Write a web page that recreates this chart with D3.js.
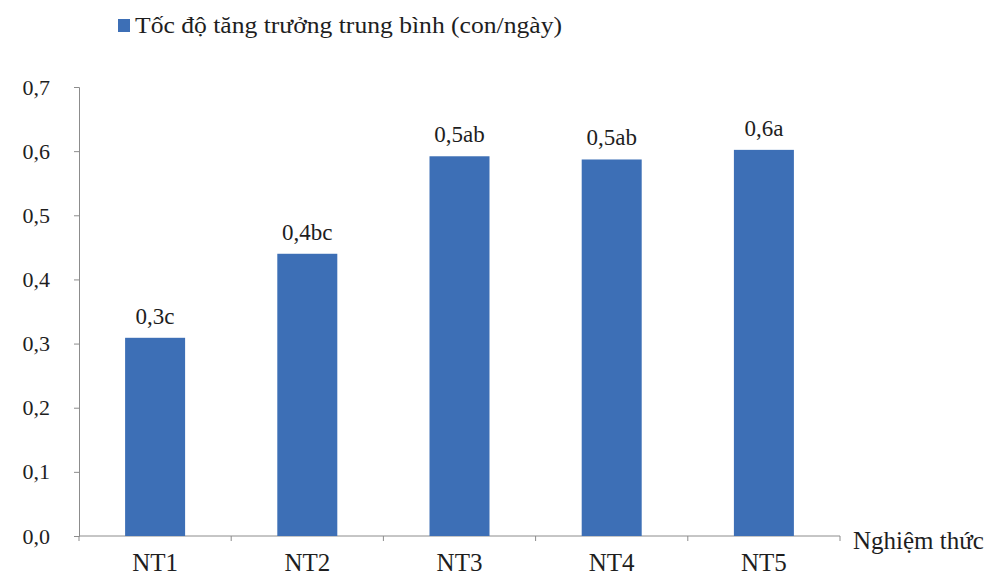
<!DOCTYPE html>
<html>
<head>
<meta charset="utf-8">
<script src="https://cdn.jsdelivr.net/npm/d3@7"></script>
<style>
  html, body { margin: 0; padding: 0; background: #fff; }
</style>
</head>
<body>
<svg id="chart" width="990" height="577"></svg>
<script>
const categories = ["NT1", "NT2", "NT3", "NT4", "NT5"];
const values = [0.309, 0.44, 0.592, 0.587, 0.602];
const valueLabels = ["0,3c", "0,4bc", "0,5ab", "0,5ab", "0,6a"];
const yTicks = [0, 0.1, 0.2, 0.3, 0.4, 0.5, 0.6, 0.7];
const legendLabel = "Tốc độ tăng trưởng trung bình (con/ngày)";
const xAxisTitle = "Nghiệm thức";

const FONT = "'Liberation Serif', 'Times New Roman', Tinos, serif";
const TXT = "#1e1e1e";
const svg = d3.select("#chart");
const margin = { left: 79, right: 150, top: 87, bottom: 41 };
const W = 990, H = 577;
const x0 = margin.left, x1 = W - margin.right, y0 = H - margin.bottom, y1 = margin.top;

const x = d3.scaleBand().domain(categories).range([x0, x1]);
const y = d3.scaleLinear().domain([0, 0.7]).range([y0, y1]);
const axisColor = "#8c8c8c";
const barColor = "#3d6fb6";

// Y axis
const yAxis = svg.append("g").attr("transform", `translate(${x0},0)`)
  .call(d3.axisLeft(y).tickValues(yTicks).tickSize(5).tickPadding(24)
    .tickFormat(d => d3.format(".1f")(d).replace(".", ",")));
yAxis.attr("font-family", FONT);
yAxis.select(".domain").attr("stroke", axisColor);
yAxis.selectAll(".tick line").attr("stroke", axisColor);
yAxis.selectAll(".tick text").attr("font-size", 22).attr("fill", TXT).attr("font-family", FONT);

// X axis (band boundaries as ticks)
const xg = svg.append("g").attr("transform", `translate(0,${y0})`);
xg.append("line").attr("x1", x0).attr("x2", x1).attr("stroke", axisColor);
const bounds = categories.map(c => x(c)).concat([x1]);
xg.selectAll("line.tk").data(bounds).join("line").attr("class", "tk")
  .attr("x1", d => d).attr("x2", d => d).attr("y1", 0).attr("y2", 5).attr("stroke", axisColor);
const xc = d => x(d) + x.bandwidth() / 2;
xg.selectAll("text.cat").data(categories).join("text").attr("class", "cat")
  .attr("x", d => xc(d)).attr("y", 35).attr("text-anchor", "middle")
  .attr("font-family", FONT).attr("fill", TXT)
  .attr("font-size", 25).text(d => d);

// Bars
const bw = 60;
svg.selectAll("rect.bar").data(values).join("rect").attr("class", "bar")
  .attr("x", (d, i) => xc(categories[i]) - bw / 2)
  .attr("y", d => y(d)).attr("width", bw).attr("height", d => y0 - y(d))
  .attr("fill", barColor);

svg.selectAll("text.val").data(values).join("text").attr("class", "val")
  .attr("x", (d, i) => xc(categories[i])).attr("y", d => y(d) - 14)
  .attr("text-anchor", "middle").attr("font-size", 23)
  .attr("font-family", FONT).attr("fill", TXT)
  .text((d, i) => valueLabels[i]);

// X axis title
svg.append("text").attr("x", 853).attr("y", y0 + 13).attr("font-size", 25)
  .attr("font-family", FONT).attr("fill", TXT).text(xAxisTitle);

// Legend
svg.append("rect").attr("x", 118).attr("y", 19).attr("width", 12).attr("height", 13).attr("fill", barColor);
svg.append("text").attr("x", 135).attr("y", 33).attr("font-size", 23)
  .attr("font-family", FONT).attr("fill", TXT)
  .attr("textLength", 427).attr("lengthAdjust", "spacingAndGlyphs")
  .text(legendLabel);
</script>
</body>
</html>
